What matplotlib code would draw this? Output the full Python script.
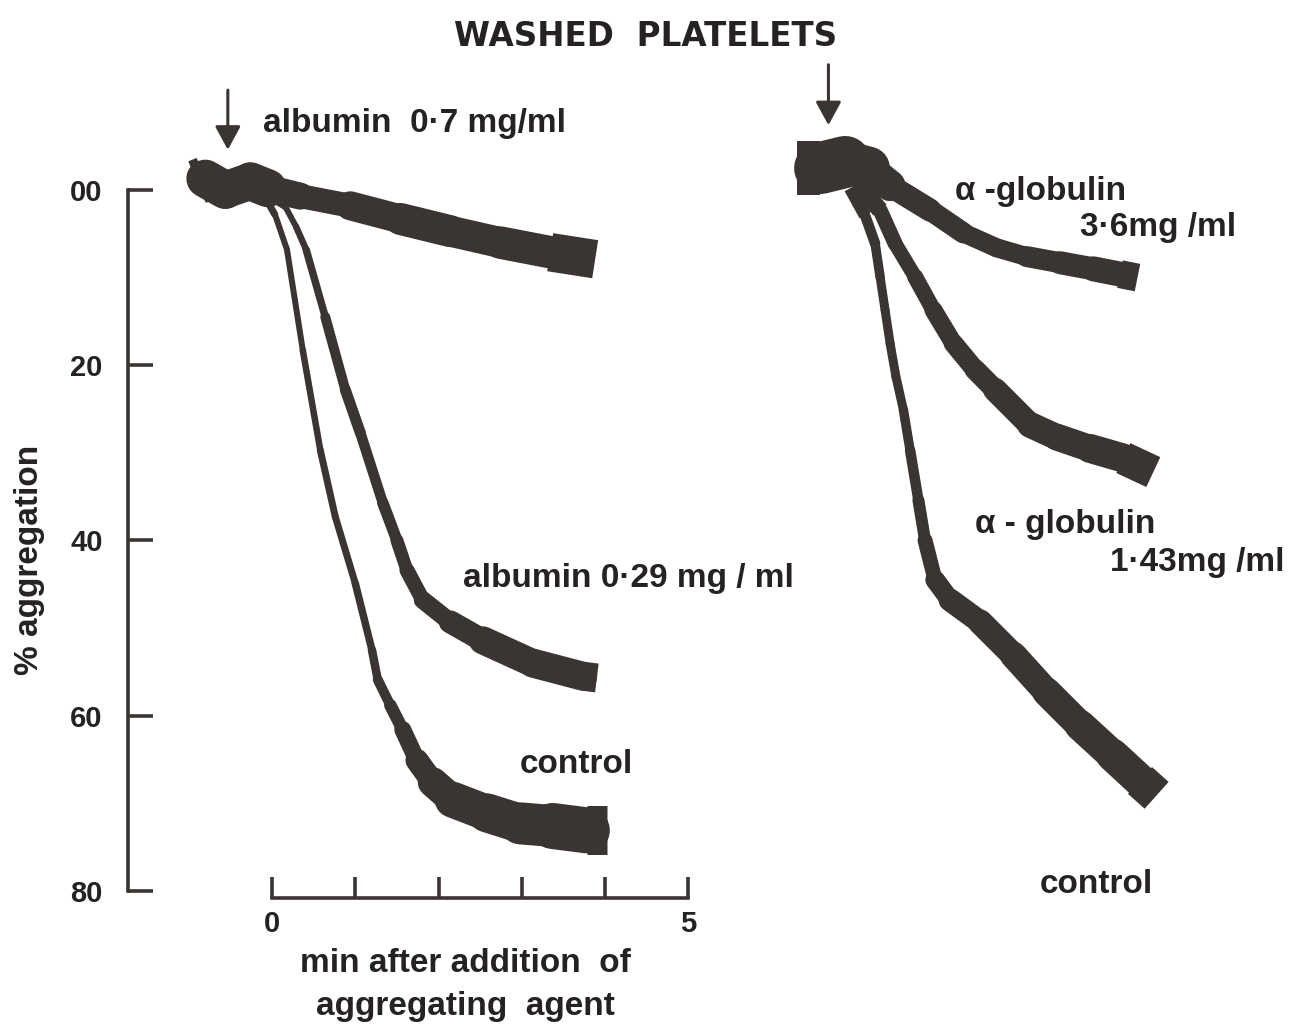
import matplotlib
matplotlib.use("Agg")
import matplotlib.pyplot as plt
import numpy as np
from matplotlib.collections import LineCollection

# washed platelets, % aggregation traces
# left panel: minutes after addition of aggregating agent
alb07_t = [-0.90, -0.80, -0.56, -0.26, -0.05, 0.34, 0.94, 1.54, 2.14, 2.74, 3.34, 3.88]
alb07_v = [-0.9, -1.3, 0.0, -1.0, -0.2, 0.7, 1.8, 3.3, 4.7, 6.0, 7.1, 7.9]
alb07_w = [44, 46, 30, 44, 32, 22, 26, 32, 32, 30, 35, 42]

alb029_t = [-0.12, 0.16, 0.29, 0.41, 0.64, 0.88, 1.06, 1.33, 1.50, 1.62, 1.81, 2.14, 2.53, 3.13, 3.73, 3.90]
alb029_v = [0.2, 1.9, 4.2, 6.8, 14.5, 22.8, 27.7, 35.7, 40.0, 43.4, 46.8, 49.3, 51.4, 54.0, 55.5, 55.7]
alb029_w = [8, 6, 6, 7, 8, 12, 10, 11, 12, 14, 16, 20, 26, 30, 28, 30]

ctl_l_t = [-0.12, 0.04, 0.18, 0.37, 0.58, 0.76, 1.00, 1.20, 1.27, 1.42, 1.57, 1.74, 1.93, 2.17, 2.58, 2.98, 3.37, 3.78, 4.02]
ctl_l_v = [0.2, 2.9, 6.8, 18.3, 29.7, 37.3, 44.9, 52.5, 55.9, 58.8, 61.6, 65.1, 67.6, 69.6, 71.1, 72.3, 72.6, 73.1, 73.1]
ctl_l_w = [8, 6, 6, 6, 7, 7, 7, 8, 9, 11, 14, 20, 26, 34, 38, 40, 44, 48, 50]

# right panel: minutes from its own start
glob36_t = [-0.70, -0.42, -0.12, 0.16, 0.42, 0.90, 1.30, 1.70, 2.06, 2.46, 2.86, 3.18, 3.39]
glob36_v = [-2.5, -2.5, -3.2, -2.5, -0.5, 2.3, 4.9, 6.6, 7.6, 8.3, 9.0, 9.6, 10.0]
glob36_w = [52, 56, 48, 38, 24, 22, 20, 18, 20, 22, 24, 26, 30]

glob143_t = [0.04, 0.30, 0.48, 0.72, 0.94, 1.18, 1.44, 1.68, 2.10, 2.42, 2.82, 3.22, 3.58]
glob143_v = [-0.6, 2.3, 6.1, 9.9, 13.7, 17.5, 20.5, 22.8, 26.8, 28.2, 29.5, 30.6, 32.2]
glob143_w = [18, 16, 14, 15, 17, 19, 20, 22, 26, 26, 28, 30, 36]

ctl_r_t = [-0.06, 0.12, 0.24, 0.30, 0.36, 0.42, 0.49, 0.58, 0.66, 0.76, 0.84, 0.96, 1.14, 1.50, 1.90, 2.30, 2.70, 3.09, 3.42, 3.62]
ctl_r_v = [-0.2, 2.9, 6.1, 9.9, 13.7, 17.5, 21.3, 25.1, 29.7, 35.4, 40.0, 44.5, 46.8, 49.3, 53.1, 57.3, 61.1, 64.5, 67.4, 69.1]
ctl_r_w = [14, 11, 10, 9, 9, 9, 9, 9, 10, 11, 13, 17, 22, 24, 26, 28, 30, 32, 34, 38]

right_offset = 7.0  # where the right panel sits on the time scale

yticks = [0, 20, 40, 60, 80]
ytick_labels = ["00", "20", "40", "60", "80"]
xticks = [0, 1, 2, 3, 4, 5]
xtick_labels = ["0", "", "", "", "", "5"]

INK = "#3a3432"
TXT = "#262222"
FONT = "Liberation Sans"


def trace(ax, t, v, w, offset=0.0):
    pts = np.column_stack([np.asarray(t) + offset, v])
    segs = np.stack([pts[:-1], pts[1:]], axis=1)
    w = np.asarray(w, float) * 0.72  # px -> pt
    lw = (w[:-1] + w[1:]) / 2
    mid = LineCollection(segs[1:-1], linewidths=lw[1:-1], colors=INK,
                         capstyle="round", joinstyle="round")
    ends = LineCollection(segs[[0, -1]], linewidths=lw[[0, -1]], colors=INK,
                          capstyle="butt")
    ax.add_collection(mid)
    ax.add_collection(ends)


fig = plt.figure(figsize=(13.09, 10.28), dpi=100)
ax = fig.add_axes([0, 0, 1, 1])
ax.set_xlim(-3.265, 12.449)
ax.set_ylim(95.66, -21.69)

trace(ax, alb07_t, alb07_v, alb07_w)
trace(ax, alb029_t, alb029_v, alb029_w)
trace(ax, ctl_l_t, ctl_l_v, ctl_l_w)
trace(ax, glob36_t, glob36_v, glob36_w, right_offset)
trace(ax, glob143_t, glob143_v, glob143_w, right_offset)
trace(ax, ctl_r_t, ctl_r_v, ctl_r_w, right_offset)

# axes drawn as the old style bracket scales
for s in ["top", "right"]:
    ax.spines[s].set_visible(False)
ax.spines["left"].set_position(("data", -1.73))
ax.spines["left"].set_bounds(0, 80)
ax.spines["bottom"].set_position(("data", 80.8))
ax.spines["bottom"].set_bounds(0, 5)
for s in ["left", "bottom"]:
    ax.spines[s].set_linewidth(2.6)
    ax.spines[s].set_color(INK)
    ax.spines[s].set_capstyle("projecting")

ax.set_yticks(yticks, ytick_labels)
ax.set_xticks(xticks, xtick_labels)
ax.tick_params(axis="y", direction="in", length=18, width=2.6, pad=18, color=INK,
               labelsize=21, labelcolor=TXT)
ax.tick_params(axis="x", direction="in", length=15, width=2.6, pad=9, color=INK,
               labelsize=21, labelcolor=TXT)
for lab in ax.get_xticklabels() + ax.get_yticklabels():
    lab.set_fontfamily(FONT)
    lab.set_fontweight("bold")

# arrows marking additions
arrow = dict(arrowstyle="-|>,head_length=0.55,head_width=0.3", mutation_scale=26,
             lw=2.2, color=INK, shrinkA=0, shrinkB=0)
ax.annotate("", xy=(-0.53, -4.6), xytext=(-0.53, -11.4), arrowprops=arrow)
ax.annotate("", xy=(6.68, -7.4), xytext=(6.68, -14.3), arrowprops=arrow)

tx = dict(fontfamily=FONT, fontweight="bold", fontsize=24, color=TXT)
ax.text(4.48, -17.5, "WASHED  PLATELETS", ha="center", va="center",
        fontfamily="DejaVu Sans", fontweight="heavy", fontsize=23.5, color=TXT)
ax.text(-0.11, -7.6, "albumin  0·7 mg/ml", ha="left", va="center", **tx)
ax.text(2.29, 44.3, "albumin 0·29 mg / ml", ha="left", va="center", **tx)
ax.text(2.98, 65.6, "control", ha="left", va="center", **tx)
ax.text(8.20, 0.2, "α -globulin", ha="left", va="center", **tx)
ax.text(11.58, 4.3, "3·6mg /ml", ha="right", va="center", **tx)
ax.text(8.44, 38.2, "α - globulin", ha="left", va="center", **tx)
ax.text(12.16, 42.5, "1·43mg /ml", ha="right", va="center", **tx)
ax.text(9.22, 79.3, "control", ha="left", va="center", **tx)
ax.text(-2.905, 42.2, "% aggregation", ha="center", va="center", rotation=90, **tx)
ax.text(2.32, 88.3, "min after addition  of", ha="center", va="center", **tx)
ax.text(2.32, 93.2, "aggregating  agent", ha="center", va="center", **tx)

fig.savefig("out.png", dpi=100, facecolor="white")
